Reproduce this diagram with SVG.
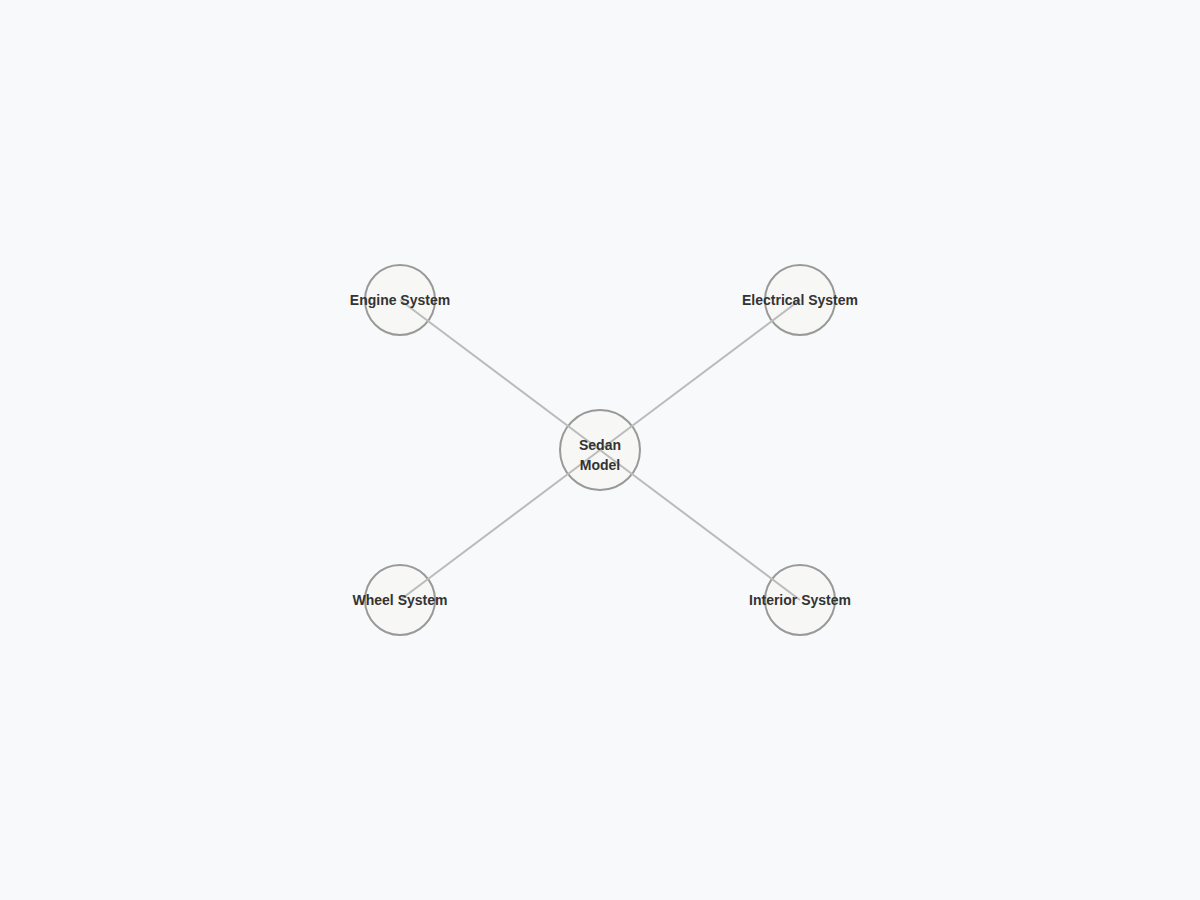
<svg xmlns="http://www.w3.org/2000/svg" width="1200" height="900" viewBox="0 0 1200 900">
  <style>
    .node { fill: #f7f7f6; stroke: #999999; stroke-width: 2; }
    .link { stroke: #bbbbbb; stroke-width: 2; fill: none; }
    .label { font-family: "Liberation Sans", Arial, sans-serif; font-size: 14px; font-weight: bold; fill: #333333; text-anchor: middle; dominant-baseline: central; }
  </style>
  <rect width="1200" height="900" fill="#f8f9fa"/>

  <!-- node shapes -->
  <g id="node-sedan"><circle class="node" cx="600" cy="450" r="40"/></g>
  <g id="node-engine"><circle class="node" cx="400" cy="300" r="35"/></g>
  <g id="node-electrical"><circle class="node" cx="800" cy="300" r="35"/></g>
  <g id="node-wheel"><circle class="node" cx="400" cy="600" r="35"/></g>
  <g id="node-interior"><circle class="node" cx="800" cy="600" r="35"/></g>

  <!-- connectors, centre to centre -->
  <g id="connectors">
    <line class="link" x1="600" y1="450" x2="400" y2="300"/>
    <line class="link" x1="600" y1="450" x2="800" y2="300"/>
    <line class="link" x1="600" y1="450" x2="400" y2="600"/>
    <line class="link" x1="600" y1="450" x2="800" y2="600"/>
  </g>

  <!-- labels -->
  <g id="labels">
    <text class="label" x="600" y="445">Sedan</text>
    <text class="label" x="600" y="465">Model</text>
    <text class="label" x="400" y="300">Engine System</text>
    <text class="label" x="800" y="300">Electrical System</text>
    <text class="label" x="400" y="600">Wheel System</text>
    <text class="label" x="800" y="600">Interior System</text>
  </g>
</svg>
